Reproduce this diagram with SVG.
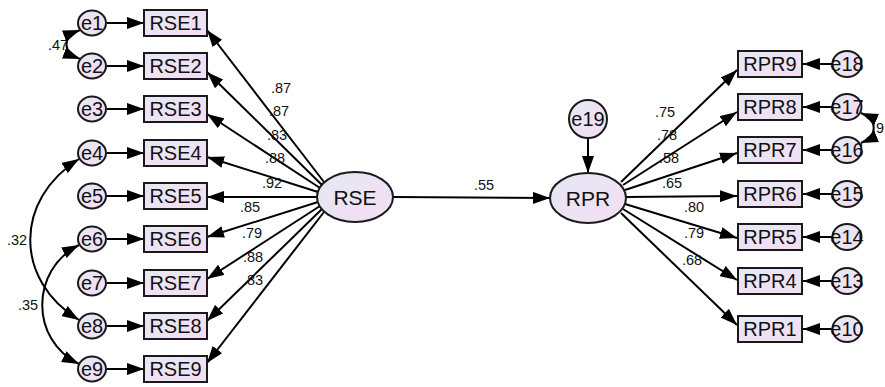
<svg xmlns="http://www.w3.org/2000/svg" width="885" height="387" viewBox="0 0 885 387">
<style>
.box{fill:url(#g);stroke:#1a1a1a;stroke-width:2}
.ell{fill:url(#g);stroke:#1a1a1a;stroke-width:2}
.t{font-family:"Liberation Sans",Arial,sans-serif;font-size:20px;fill:#111;text-anchor:middle}
.tl{font-family:"Liberation Sans",Arial,sans-serif;font-size:21px;fill:#111;text-anchor:middle}
.lb{font-family:"Liberation Sans",Arial,sans-serif;font-size:14.5px;fill:#111;text-anchor:middle}
.ln{stroke:#000;stroke-width:2;fill:none;marker-end:url(#ah)}
.cv{stroke:#000;stroke-width:2;fill:none;marker-start:url(#ah);marker-end:url(#ah)}
</style>
<defs>
<linearGradient id="g" x1="0" y1="0" x2="1" y2="1">
<stop offset="0" stop-color="#e5e8f5"/>
<stop offset="1" stop-color="#f4ddf2"/>
</linearGradient>
<marker id="ah" markerUnits="userSpaceOnUse" markerWidth="17" markerHeight="12" refX="17" refY="6" orient="auto-start-reverse">
<path d="M0,0 L17,6 L0,12 z" fill="#000"/>
</marker>
</defs>
<rect width="885" height="387" fill="#fff"/>

<g id="labels-hidden">
<text class="lb" x="58" y="50">.47</text>
<text class="lb" x="884" y="133" style="text-anchor:end">.9</text>
</g>

<g id="connectors">
<line class="ln" x1="107" y1="23" x2="144" y2="23"/>
<line class="ln" x1="107" y1="66" x2="144" y2="66"/>
<line class="ln" x1="107" y1="109" x2="144" y2="109"/>
<line class="ln" x1="107" y1="153" x2="144" y2="153"/>
<line class="ln" x1="107" y1="196" x2="144" y2="196"/>
<line class="ln" x1="107" y1="239" x2="144" y2="239"/>
<line class="ln" x1="107" y1="283" x2="144" y2="283"/>
<line class="ln" x1="107" y1="326" x2="144" y2="326"/>
<line class="ln" x1="107" y1="369" x2="144" y2="369"/>
<line class="ln" x1="324" y1="182" x2="207" y2="30"/>
<line class="ln" x1="322" y1="185" x2="207" y2="72"/>
<line class="ln" x1="320" y1="188" x2="207" y2="114"/>
<line class="ln" x1="318" y1="192" x2="207" y2="157"/>
<line class="ln" x1="317" y1="197" x2="207" y2="197"/>
<line class="ln" x1="318" y1="202" x2="207" y2="237"/>
<line class="ln" x1="320" y1="206" x2="207" y2="279"/>
<line class="ln" x1="322" y1="209" x2="207" y2="321"/>
<line class="ln" x1="324" y1="212" x2="207" y2="363"/>
<line class="ln" x1="393" y1="197" x2="550" y2="198"/>
<line class="ln" x1="588" y1="138" x2="588" y2="173"/>
<line class="ln" x1="621" y1="182" x2="737" y2="70"/>
<line class="ln" x1="623" y1="185" x2="737" y2="112"/>
<line class="ln" x1="625" y1="190" x2="737" y2="153"/>
<line class="ln" x1="626" y1="197" x2="737" y2="196"/>
<line class="ln" x1="625" y1="204" x2="737" y2="238"/>
<line class="ln" x1="623" y1="209" x2="737" y2="280"/>
<line class="ln" x1="621" y1="213" x2="737" y2="325"/>
<line class="ln" x1="833" y1="64" x2="803" y2="64"/>
<line class="ln" x1="833" y1="107" x2="803" y2="107"/>
<line class="ln" x1="833" y1="150" x2="803" y2="150"/>
<line class="ln" x1="833" y1="194" x2="803" y2="194"/>
<line class="ln" x1="833" y1="237" x2="803" y2="237"/>
<line class="ln" x1="833" y1="281" x2="803" y2="281"/>
<line class="ln" x1="833" y1="329" x2="803" y2="329"/>
<path class="cv" d="M80,30 C62,37 62,52 80,59"/>
<path class="cv" d="M79,159 C14,200 14,280 79,320"/>
<path class="cv" d="M79,245 C30,270 30,340 79,364"/>
<path class="cv" d="M861,113 C878,120 878,136 861,143"/>
</g>

<g id="path-labels">
<text class="lb" x="281" y="93">.87</text>
<text class="lb" x="279" y="116">.87</text>
<text class="lb" x="277" y="140">.83</text>
<text class="lb" x="275" y="163">.88</text>
<text class="lb" x="272" y="188">.92</text>
<text class="lb" x="250" y="212">.85</text>
<text class="lb" x="252" y="238">.79</text>
<text class="lb" x="253" y="262">.88</text>
<text class="lb" x="253" y="285">.83</text>
<text class="lb" x="484" y="190">.55</text>
<text class="lb" x="665" y="117">.75</text>
<text class="lb" x="667" y="140">.78</text>
<text class="lb" x="669" y="163">.58</text>
<text class="lb" x="672" y="188">.65</text>
<text class="lb" x="694" y="212">.80</text>
<text class="lb" x="694" y="238">.79</text>
<text class="lb" x="692" y="265">.68</text>
<text class="lb" x="17" y="245">.32</text>
<text class="lb" x="28" y="310">.35</text>
</g>

<g id="RSE"><ellipse class="ell" cx="355" cy="197" rx="38" ry="25"/><text class="tl" x="355" y="204.5">RSE</text></g>
<g id="RPR"><ellipse class="ell" cx="588" cy="198" rx="38" ry="25"/><text class="tl" x="588" y="205.5">RPR</text></g>
<g id="e19"><circle class="ell" cx="588" cy="119" r="19"/><text class="t" x="588" y="126">e19</text></g>

<g id="RSE1"><rect class="box" x="144" y="10" width="63" height="26"/><text class="t" x="175.5" y="30">RSE1</text></g>
<g id="RSE2"><rect class="box" x="144" y="53" width="63" height="26"/><text class="t" x="175.5" y="73">RSE2</text></g>
<g id="RSE3"><rect class="box" x="144" y="96" width="63" height="26"/><text class="t" x="175.5" y="116">RSE3</text></g>
<g id="RSE4"><rect class="box" x="144" y="140" width="63" height="26"/><text class="t" x="175.5" y="160">RSE4</text></g>
<g id="RSE5"><rect class="box" x="144" y="183" width="63" height="26"/><text class="t" x="175.5" y="203">RSE5</text></g>
<g id="RSE6"><rect class="box" x="144" y="226" width="63" height="26"/><text class="t" x="175.5" y="246">RSE6</text></g>
<g id="RSE7"><rect class="box" x="144" y="270" width="63" height="26"/><text class="t" x="175.5" y="290">RSE7</text></g>
<g id="RSE8"><rect class="box" x="144" y="313" width="63" height="26"/><text class="t" x="175.5" y="333">RSE8</text></g>
<g id="RSE9"><rect class="box" x="144" y="356" width="63" height="26"/><text class="t" x="175.5" y="376">RSE9</text></g>

<g id="e1"><ellipse class="ell" cx="92" cy="23" rx="14" ry="12.5"/><text class="t" x="92" y="30">e1</text></g>
<g id="e2"><ellipse class="ell" cx="92" cy="66" rx="14" ry="12.5"/><text class="t" x="92" y="73">e2</text></g>
<g id="e3"><ellipse class="ell" cx="92" cy="109" rx="14" ry="12.5"/><text class="t" x="92" y="116">e3</text></g>
<g id="e4"><ellipse class="ell" cx="92" cy="153" rx="14" ry="12.5"/><text class="t" x="92" y="160">e4</text></g>
<g id="e5"><ellipse class="ell" cx="92" cy="196" rx="14" ry="12.5"/><text class="t" x="92" y="203">e5</text></g>
<g id="e6"><ellipse class="ell" cx="92" cy="239" rx="14" ry="12.5"/><text class="t" x="92" y="246">e6</text></g>
<g id="e7"><ellipse class="ell" cx="92" cy="283" rx="14" ry="12.5"/><text class="t" x="92" y="290">e7</text></g>
<g id="e8"><ellipse class="ell" cx="92" cy="326" rx="14" ry="12.5"/><text class="t" x="92" y="333">e8</text></g>
<g id="e9"><ellipse class="ell" cx="92" cy="369" rx="14" ry="12.5"/><text class="t" x="92" y="376">e9</text></g>

<g id="RPR9"><rect class="box" x="738" y="51" width="64" height="26"/><text class="t" x="770" y="71">RPR9</text></g>
<g id="RPR8"><rect class="box" x="738" y="94" width="64" height="26"/><text class="t" x="770" y="114">RPR8</text></g>
<g id="RPR7"><rect class="box" x="738" y="137" width="64" height="26"/><text class="t" x="770" y="157">RPR7</text></g>
<g id="RPR6"><rect class="box" x="738" y="181" width="64" height="26"/><text class="t" x="770" y="201">RPR6</text></g>
<g id="RPR5"><rect class="box" x="738" y="224" width="64" height="26"/><text class="t" x="770" y="244">RPR5</text></g>
<g id="RPR4"><rect class="box" x="738" y="268" width="64" height="26"/><text class="t" x="770" y="288">RPR4</text></g>
<g id="RPR1"><rect class="box" x="738" y="316" width="64" height="26"/><text class="t" x="770" y="336">RPR1</text></g>

<g id="e18"><ellipse class="ell" cx="847" cy="64" rx="14.5" ry="13"/><text class="t" x="847" y="71">e18</text></g>
<g id="e17"><ellipse class="ell" cx="847" cy="107" rx="14.5" ry="13"/><text class="t" x="847" y="114">e17</text></g>
<g id="e16"><ellipse class="ell" cx="847" cy="150" rx="14.5" ry="13"/><text class="t" x="847" y="157">e16</text></g>
<g id="e15"><ellipse class="ell" cx="847" cy="194" rx="14.5" ry="13"/><text class="t" x="847" y="201">e15</text></g>
<g id="e14"><ellipse class="ell" cx="847" cy="237" rx="14.5" ry="13"/><text class="t" x="847" y="244">e14</text></g>
<g id="e13"><ellipse class="ell" cx="847" cy="281" rx="14.5" ry="13"/><text class="t" x="847" y="288">e13</text></g>
<g id="e10"><ellipse class="ell" cx="847" cy="329" rx="14.5" ry="13"/><text class="t" x="847" y="336">e10</text></g>
</svg>
